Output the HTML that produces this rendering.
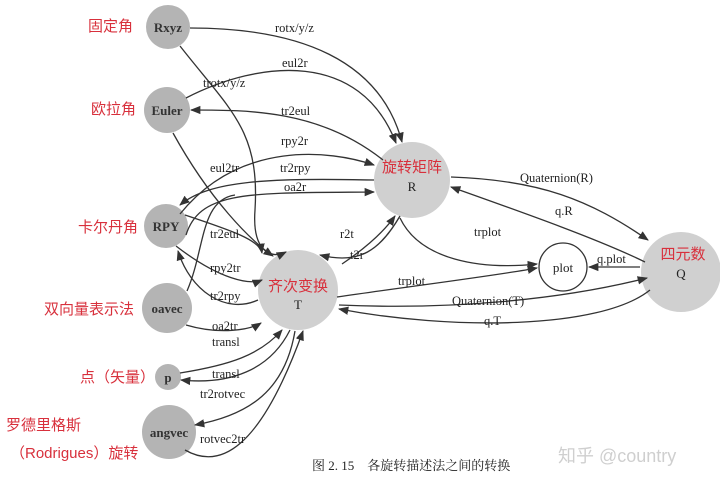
<!DOCTYPE html>
<html><head><meta charset="utf-8"><style>
html,body{margin:0;padding:0;background:#fff;}
svg{display:block}
text{font-family:"Liberation Serif","Noto Serif CJK SC",serif;font-size:12.5px;fill:#222}
.cn{font-family:"Liberation Sans","Noto Sans CJK SC",sans-serif;fill:#d8303c;font-size:15px}
.n{font-weight:bold;font-size:13px;fill:#333}
path{fill:none;stroke:#333;stroke-width:1.3}
</style></head><body>
<svg width="720" height="482" viewBox="0 0 720 482" xmlns="http://www.w3.org/2000/svg">
<defs><marker id="a" viewBox="0 0 10 10" refX="9" refY="5" markerWidth="8" markerHeight="8" orient="auto-start-reverse"><path d="M0,1 L10,5 L0,9 z" style="fill:#333;stroke:none"/></marker></defs>
<rect width="720" height="482" fill="#fff"/>
<g fill="#b4b4b4">
<circle cx="168" cy="27" r="22"/>
<circle cx="167" cy="110" r="23"/>
<circle cx="166" cy="226" r="22"/>
<circle cx="167" cy="308" r="25"/>
<circle cx="168" cy="377" r="13"/>
<circle cx="169" cy="432" r="27"/>
<circle cx="412" cy="180" r="38" fill="#d0d0d0"/>
<circle cx="298" cy="290" r="40" fill="#d0d0d0"/>
<circle cx="681" cy="272" r="40" fill="#d0d0d0"/>
</g>
<circle cx="563" cy="267" r="24" fill="#fff" stroke="#333" stroke-width="1.3"/>
<g marker-end="url(#a)">
<path d="M190,28 C300,28 380,60 402,142"/>
<path d="M186,98 C260,60 360,50 396,143"/>
<path d="M383,160 C320,110 250,110 191,110"/>
<path d="M180,214 C240,140 330,150 374,165"/>
<path d="M374,180 C270,178 210,180 180,205"/>
<path d="M186,235 C200,190 250,193 374,192"/>
<path d="M180,46 C230,110 260,130 255,210 C252,250 270,260 286,252"/>
<path d="M173,133 C210,200 250,240 273,256" />
<path d="M185,215 C230,230 260,240 262,253" />
<path d="M176,246 C220,280 250,285 262,280"/>
<path d="M187,291 C205,250 200,200 235,195" marker-end="none"/>
<path d="M258,300 C225,315 190,290 178,251"/>
<path d="M186,325 C220,335 250,330 261,323"/>
<path d="M180,373 C230,365 260,355 282,330"/>
<path d="M290,330 C270,370 230,385 181,380"/>
<path d="M295,331 C285,390 250,415 195,425"/>
<path d="M185,450 C220,470 260,450 303,331"/>
<path d="M342,264 C370,245 385,230 395,216"/>
<path d="M400,216 C380,250 360,265 320,255" />
<path d="M337,297 C420,285 500,275 537,268"/>
<path d="M400,218 C420,260 480,270 537,264"/>
<path d="M451,177 C540,180 590,200 648,240"/>
<path d="M645,262 C600,240 530,215 451,187"/>
<path d="M640,267 L589,267"/>
<path d="M339,305 C450,310 560,300 647,278"/>
<path d="M650,290 C600,330 450,330 339,309"/>
</g>
<text class="n" x="168" y="32" text-anchor="middle">Rxyz</text>
<text class="n" x="167" y="115" text-anchor="middle">Euler</text>
<text class="n" x="166" y="231" text-anchor="middle">RPY</text>
<text class="n" x="167" y="313" text-anchor="middle">oavec</text>
<text class="n" x="168" y="382" text-anchor="middle">p</text>
<text class="n" x="169" y="437" text-anchor="middle">angvec</text>
<text class="cn" x="412" y="172" text-anchor="middle">旋转矩阵</text>
<text x="412" y="191" text-anchor="middle" style="font-size:13px">R</text>
<text class="cn" x="298" y="291" text-anchor="middle">齐次变换</text>
<text x="298" y="309" text-anchor="middle" style="font-size:13px">T</text>
<text class="cn" x="683" y="259" text-anchor="middle">四元数</text>
<text x="681" y="278" text-anchor="middle" style="font-size:13px">Q</text>
<text x="563" y="272" text-anchor="middle" style="font-size:13px">plot</text>
<text x="275" y="32">rotx/y/z</text>
<text x="282" y="67">eul2r</text>
<text x="203" y="87">trotx/y/z</text>
<text x="281" y="115">tr2eul</text>
<text x="281" y="145">rpy2r</text>
<text x="210" y="172">eul2tr</text>
<text x="280" y="172">tr2rpy</text>
<text x="284" y="191">oa2r</text>
<text x="210" y="238">tr2eul</text>
<text x="340" y="238">r2t</text>
<text x="350" y="259">t2r</text>
<text x="210" y="272">rpy2tr</text>
<text x="210" y="300">tr2rpy</text>
<text x="212" y="330">oa2tr</text>
<text x="212" y="346">transl</text>
<text x="212" y="378">transl</text>
<text x="200" y="398">tr2rotvec</text>
<text x="200" y="443">rotvec2tr</text>
<text x="474" y="236">trplot</text>
<text x="398" y="285">trplot</text>
<text x="520" y="182">Quaternion(R)</text>
<text x="555" y="215">q.R</text>
<text x="597" y="263">q.plot</text>
<text x="452" y="305">Quaternion(T)</text>
<text x="484" y="325">q.T</text>
<text class="cn" x="88" y="31">固定角</text>
<text class="cn" x="91" y="114">欧拉角</text>
<text class="cn" x="78" y="232">卡尔丹角</text>
<text class="cn" x="44" y="314">双向量表示法</text>
<text class="cn" x="80" y="382">点（矢量）</text>
<text class="cn" x="6" y="430">罗德里格斯</text>
<text class="cn" x="10" y="458">（Rodrigues）旋转</text>
<text x="312" y="470" style="font-size:13px">图 2. 15　各旋转描述法之间的转换</text>
<text x="558" y="462" style="font-family:'Liberation Sans','Noto Sans CJK SC',sans-serif;font-size:18px;fill:#cfcfcf">知乎 @country</text>
</svg>
</body></html>
